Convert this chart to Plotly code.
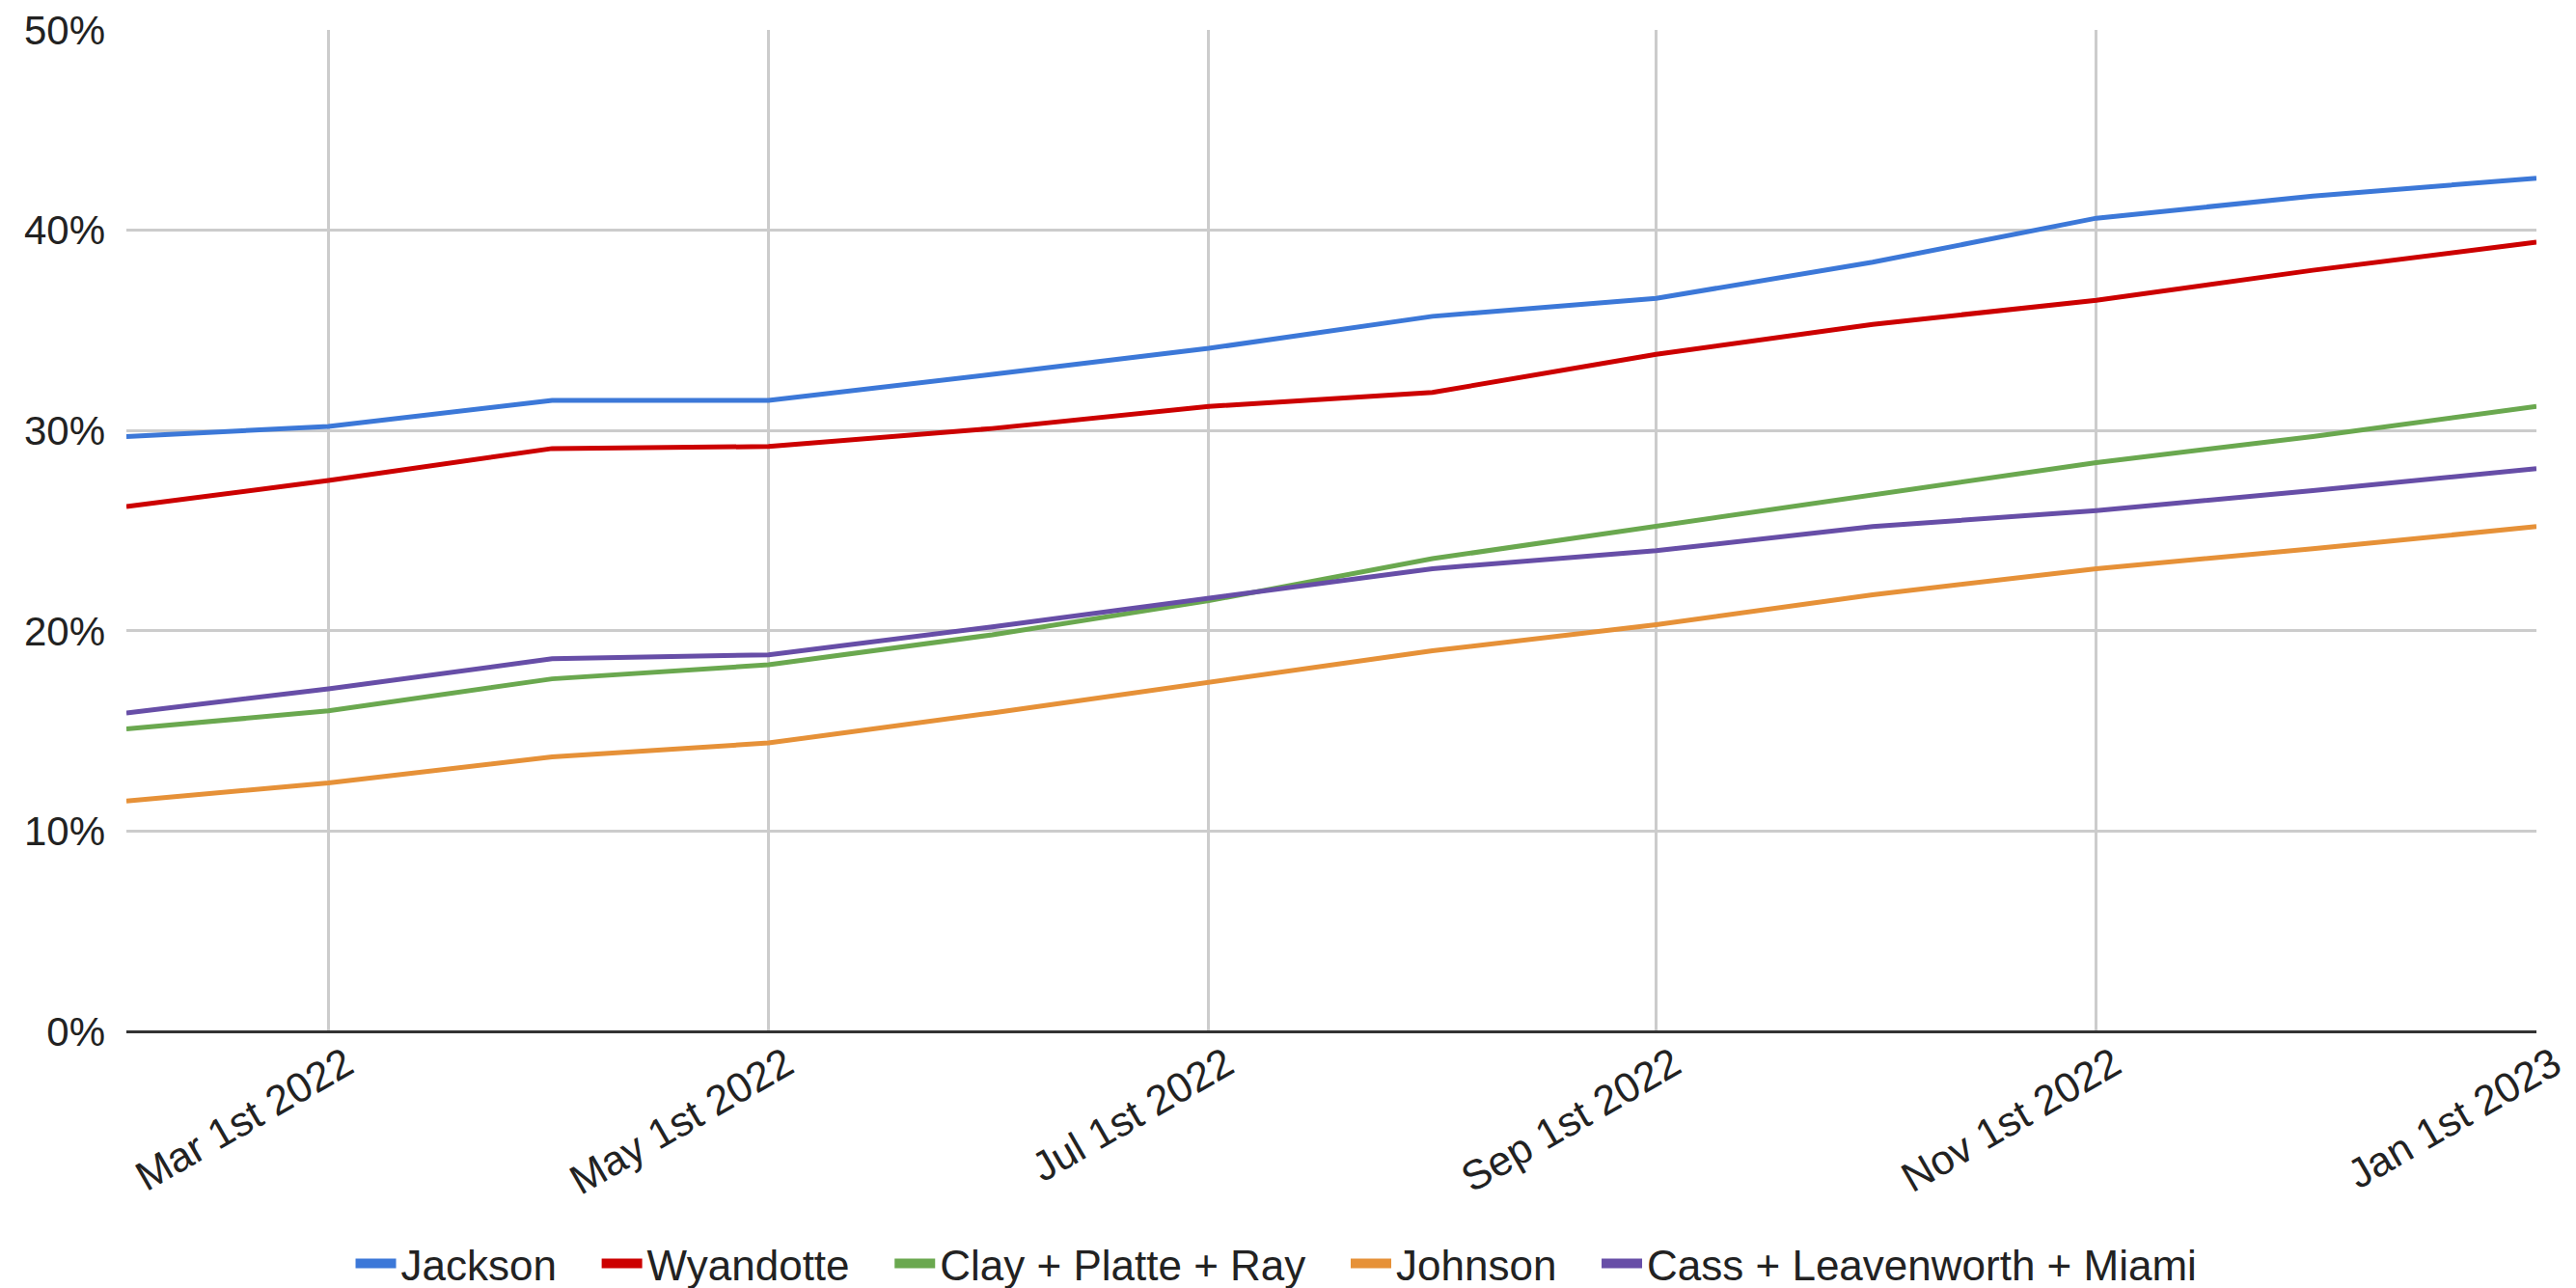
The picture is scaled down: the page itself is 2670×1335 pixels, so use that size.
import plotly.graph_objects as go

dates = ["2022-02-01", "2022-03-01", "2022-04-01", "2022-05-01", "2022-06-01", "2022-07-01",
         "2022-08-01", "2022-09-01", "2022-10-01", "2022-11-01", "2022-12-01", "2023-01-01"]

jackson = [29.7, 30.2, 31.5, 31.5, 32.8, 34.1, 35.7, 36.6, 38.4, 40.6, 41.7, 42.6]
wyandotte = [26.2, 27.5, 29.1, 29.2, 30.1, 31.2, 31.9, 33.8, 35.3, 36.5, 38.0, 39.4]
clay_platte_ray = [15.1, 16.0, 17.6, 18.3, 19.8, 21.5, 23.6, 25.2, 26.8, 28.4, 29.7, 31.2]
johnson = [11.5, 12.4, 13.7, 14.4, 15.9, 17.4, 19.0, 20.3, 21.8, 23.1, 24.1, 25.2]
cass_leav_miami = [15.9, 17.1, 18.6, 18.8, 20.2, 21.6, 23.1, 24.0, 25.2, 26.0, 27.0, 28.1]

series_names = ["Jackson", "Wyandotte", "Clay + Platte + Ray", "Johnson", "Cass + Leavenworth + Miami"]
series_values = [jackson, wyandotte, clay_platte_ray, johnson, cass_leav_miami]
colors = ["#3c78d8", "#cc0000", "#6aa84f", "#e69138", "#674ea7"]

tick_vals = ["2022-03-01", "2022-05-01", "2022-07-01", "2022-09-01", "2022-11-01", "2023-01-01"]
tick_text = ["Mar 1st 2022", "May 1st 2022", "Jul 1st 2022", "Sep 1st 2022", "Nov 1st 2022", "Jan 1st 2023"]

fig = go.Figure()
for name, vals, col in zip(series_names, series_values, colors):
    fig.add_trace(go.Scatter(
        x=dates, y=[v / 100 for v in vals], mode="lines", name=name,
        line=dict(color=col, width=5), showlegend=False,
    ))
# legend entries (thick short swatches like the original)
for i, (name, col) in enumerate(zip(series_names, colors)):
    pad = "\u00a0\u00a0\u00a0" if i < len(series_names) - 1 else ""
    fig.add_trace(go.Scatter(
        x=[dates[0]], y=[None], mode="lines", name=name + pad,
        line=dict(color=col, width=12), showlegend=True, hoverinfo="skip",
    ))

fig.update_layout(
    width=2662, height=1327,
    margin=dict(l=123, r=41, t=23, b=266, autoexpand=False),
    paper_bgcolor="white", plot_bgcolor="white",
    font=dict(family="Liberation Sans, Arial, sans-serif", size=43, color="#222222"),
    showlegend=True,
    legend=dict(orientation="h", xref="container", x=0.494, xanchor="center",
                yref="container", y=0.019, yanchor="middle",
                font=dict(size=44, color="#222222"), itemwidth=42),
)
fig.update_xaxes(
    type="date",
    range=["2022-02-01", "2023-01-01"],
    tickmode="array", tickvals=tick_vals, ticktext=tick_text, tickangle=-30,
    ticklabelshift=18, ticklabeloverflow="allow",
    showgrid=True, gridcolor="#cccccc", gridwidth=2.5,
    showline=False, zeroline=False, ticks="",
    tickfont=dict(size=43, color="#222222"),
)
fig.update_yaxes(
    range=[0, 0.5], tickvals=[0, 0.1, 0.2, 0.3, 0.4, 0.5], tickformat=".0%",
    ticklabeloverflow="allow",
    showgrid=True, gridcolor="#cccccc", gridwidth=2.5,
    zeroline=True, zerolinecolor="#333333", zerolinewidth=3,
    showline=False, ticks="", ticklabelstandoff=21,
    tickfont=dict(size=42, color="#222222"),
)

fig.write_html("out.html")
